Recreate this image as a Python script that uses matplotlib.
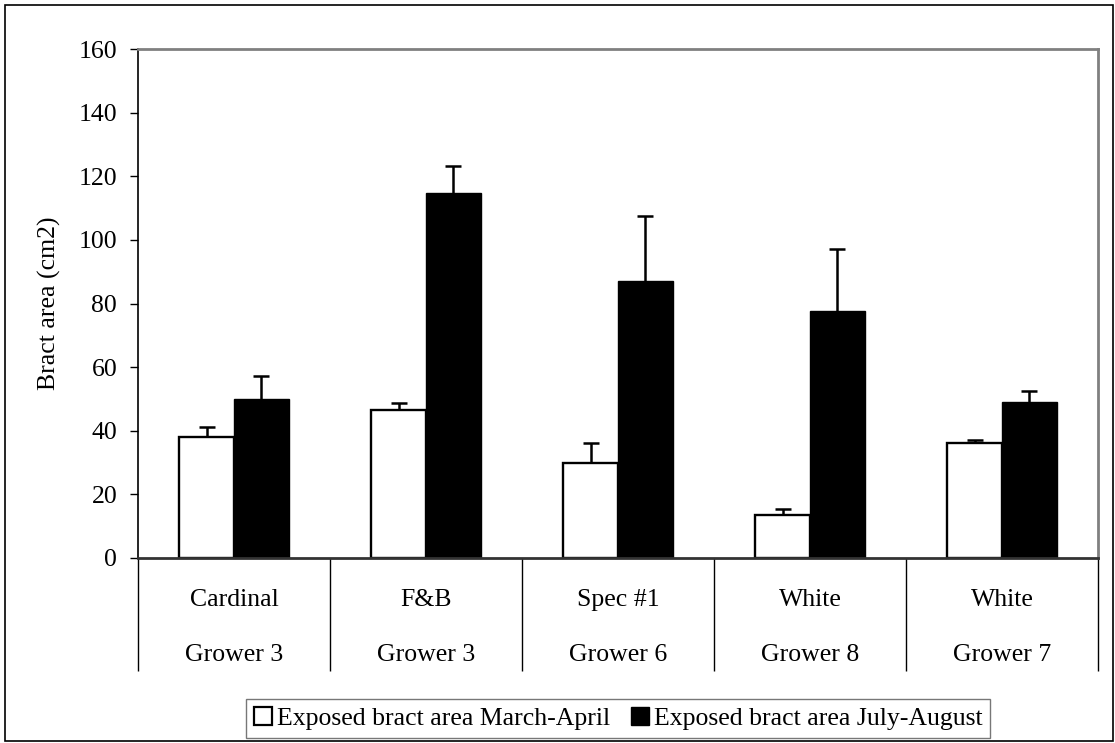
import numpy as np
import matplotlib
matplotlib.use('Agg')
import matplotlib.pyplot as plt
from matplotlib.patches import Rectangle, Patch

varieties = ['Cardinal', 'F&B', 'Spec #1', 'White', 'White']
growers = ['Grower 3', 'Grower 3', 'Grower 6', 'Grower 8', 'Grower 7']
march_april = [38.0, 46.4, 29.9, 13.6, 36.0]
march_april_err = [3.1, 2.3, 6.4, 1.9, 1.0]
july_august = [50.0, 114.6, 87.2, 77.7, 49.0]
july_august_err = [7.1, 8.6, 20.4, 19.3, 3.5]
yticks = [0, 20, 40, 60, 80, 100, 120, 140, 160]

plt.rcParams['font.family'] = ['Liberation Serif', 'DejaVu Serif']
fs = 18.5

fig = plt.figure(figsize=(11.15, 7.43), dpi=100)
ax = fig.add_axes([138/1115, 1 - 558/743, 960/1115, 509/743])

x = np.arange(len(varieties)) + 0.5
w = 0.285
ax.bar(x - w/2, march_april, w, color='white', edgecolor='black', linewidth=1.7, zorder=2)
ax.bar(x + w/2, july_august, w, color='black', edgecolor='black', linewidth=1.0, zorder=2)
for xs, vals, errs in [(x - w/2, march_april, march_april_err),
                       (x + w/2, july_august, july_august_err)]:
    eb = ax.errorbar(xs, vals, yerr=[np.zeros(5), errs], fmt='none',
                     ecolor='black', elinewidth=1.8, capsize=6, capthick=1.8, zorder=3)
    # only the upper cap, like the original
    eb[1][0].set_visible(False)

ax.set_xlim(0, 5)
ax.set_ylim(0, 160)
ax.set_yticks(yticks)
ax.tick_params(axis='y', direction='out', length=6, width=1, pad=9, labelsize=fs)

# category boxes below the axis
ax.set_xticks(np.arange(6), minor=True)
ax.set_xticks([])
ax.tick_params(axis='x', which='minor', direction='out', length=81, width=1, labelbottom=False)

for xi, v, g in zip(x, varieties, growers):
    ax.annotate(v, xy=(xi, 0), xycoords=('data', 'axes fraction'), xytext=(0, -30),
                textcoords='offset points', ha='center', va='center', fontsize=fs)
    ax.annotate(g, xy=(xi, 0), xycoords=('data', 'axes fraction'), xytext=(0, -69.5),
                textcoords='offset points', ha='center', va='center', fontsize=fs)

for s in ['top', 'right']:
    ax.spines[s].set_color('#808080')
    ax.spines[s].set_linewidth(2)
ax.spines['left'].set_linewidth(1.2)
ax.spines['bottom'].set_linewidth(2)
ax.spines['bottom'].set_color('#333333')

ax.set_ylabel('Bract area (cm2)', fontsize=fs, va='center')
ax.yaxis.set_label_coords(-0.092, 0.5)

handles = [Patch(facecolor='white', edgecolor='black', linewidth=1.6),
           Patch(facecolor='black', edgecolor='black')]
leg = fig.legend(handles, ['Exposed bract area March-April', 'Exposed bract area July-August'],
                 loc='center', bbox_to_anchor=(618/1115, 1 - 718.5/743), ncol=2, fontsize=fs,
                 frameon=True, fancybox=False, handlelength=0.7, handleheight=0.7,
                 handletextpad=0.2, columnspacing=0.8, borderpad=0.3, borderaxespad=0)
leg.get_frame().set_edgecolor('#555555')
leg.get_frame().set_linewidth(1)

fig.patches.append(Rectangle((5/1115, 2/743), 1108/1115, 736/743, transform=fig.transFigure,
                             fill=False, edgecolor='black', linewidth=1.2))

fig.savefig('out.png', dpi=100)
